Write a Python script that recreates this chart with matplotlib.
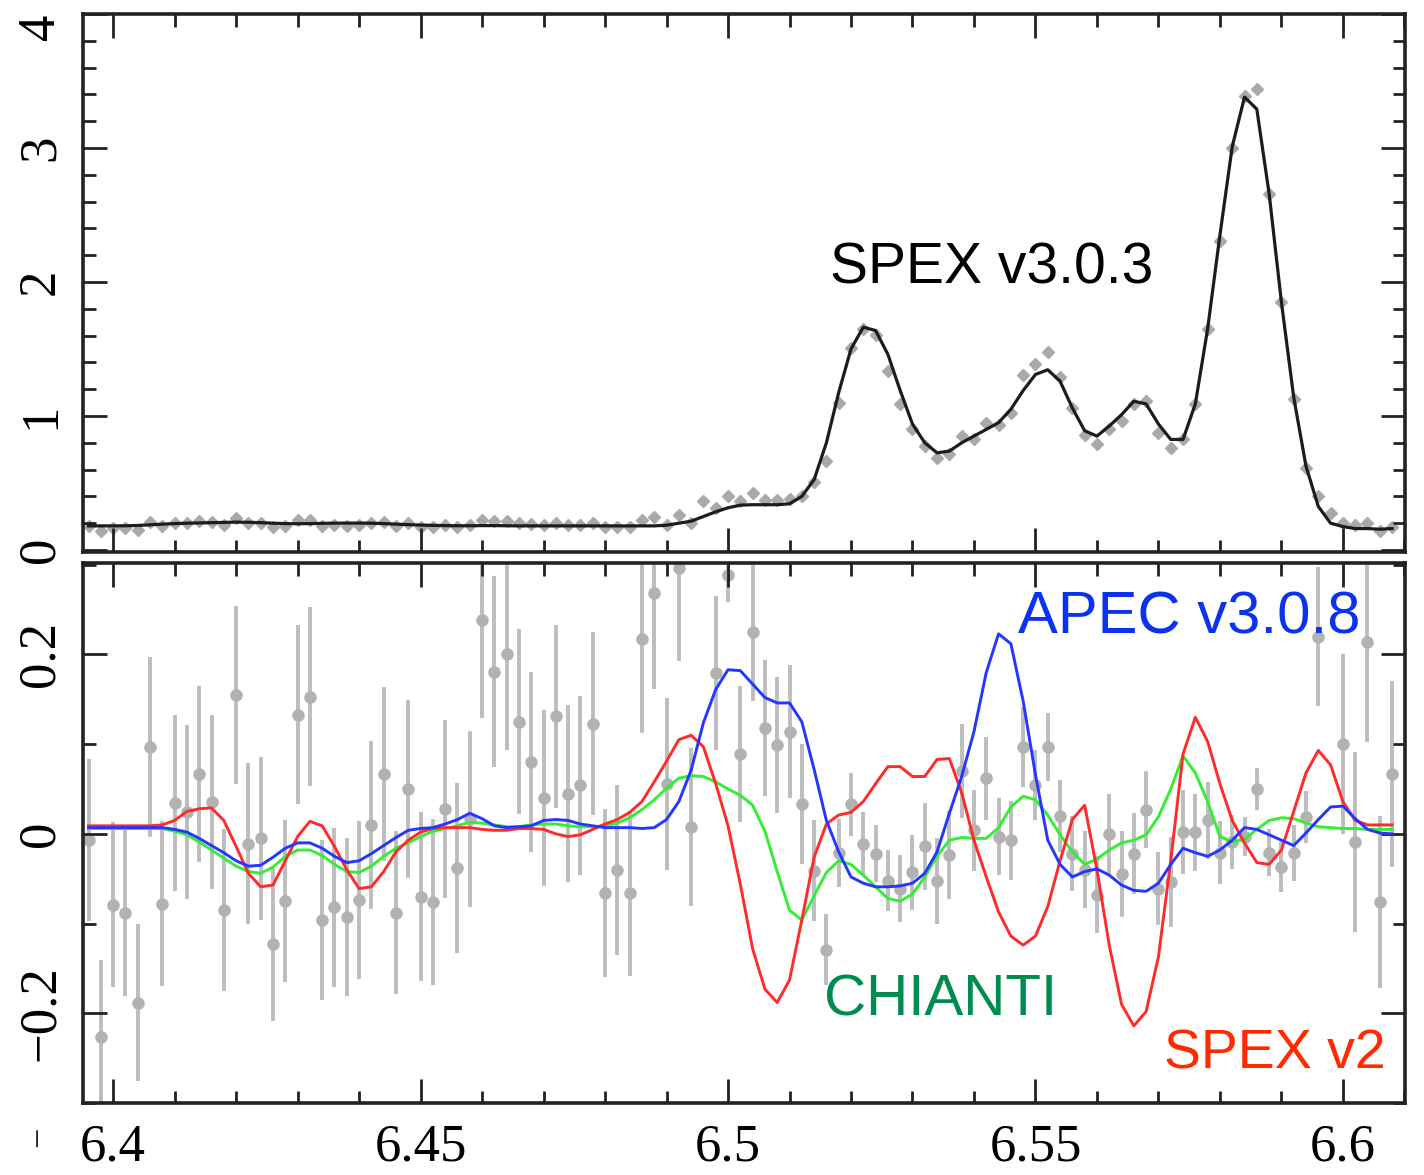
import numpy as np
import matplotlib
matplotlib.use("Agg")
import matplotlib.pyplot as plt
from matplotlib.ticker import MultipleLocator

# ---------------- data ----------------
energy = np.round(np.arange(6.396, 6.6085, 0.002), 3)   # keV bins (107)

top_model = [0.180, 0.180, 0.180, 0.181, 0.183, 0.188, 0.193, 0.197, 0.200, 0.202,
             0.204, 0.206, 0.208, 0.207, 0.204, 0.200, 0.197, 0.196, 0.197, 0.199,
             0.200, 0.201, 0.201, 0.200, 0.197, 0.193, 0.189, 0.186, 0.184, 0.182,
             0.181, 0.181, 0.182, 0.182, 0.181, 0.180, 0.180, 0.180, 0.180, 0.180,
             0.180, 0.180, 0.180, 0.180, 0.180,
             0.180, 0.180, 0.185, 0.200, 0.215, 0.250, 0.285, 0.315, 0.335, 0.338,
             0.338, 0.338, 0.345, 0.400, 0.525, 0.800, 1.175, 1.500, 1.663, 1.638,
             1.460, 1.190, 0.940, 0.800, 0.725, 0.738, 0.800, 0.850, 0.900, 0.950,
             1.050, 1.190, 1.310, 1.345, 1.260, 1.060, 0.890, 0.850, 0.925, 1.010,
             1.110, 1.090, 0.940, 0.825, 0.825, 1.090, 1.650, 2.350, 3.010, 3.380,
             3.290, 2.660, 1.850, 1.140, 0.625, 0.325, 0.200, 0.175, 0.160, 0.160,
             0.155, 0.160]

top_data = [0.179, 0.139, 0.166, 0.165, 0.149, 0.206, 0.178, 0.204, 0.205, 0.216,
            0.211, 0.188, 0.240, 0.205, 0.203, 0.175, 0.182, 0.222, 0.227, 0.180,
            0.184, 0.182, 0.186, 0.202, 0.210, 0.176, 0.198, 0.173, 0.170, 0.187,
            0.174, 0.184, 0.226, 0.215, 0.217, 0.203, 0.194, 0.187, 0.204, 0.188,
            0.190, 0.202, 0.168, 0.173, 0.168,
            0.225, 0.250, 0.190, 0.263, 0.200, 0.363, 0.313, 0.400, 0.363, 0.425,
            0.375, 0.370, 0.380, 0.400, 0.505, 0.663, 1.100, 1.505, 1.650, 1.605,
            1.338, 1.088, 0.900, 0.775, 0.688, 0.713, 0.850, 0.830, 0.950, 0.930,
            1.025, 1.305, 1.390, 1.475, 1.290, 1.060, 0.860, 0.790, 0.900, 0.960,
            1.090, 1.110, 0.875, 0.760, 0.825, 1.090, 1.650, 2.305, 3.000, 3.390,
            3.440, 2.660, 1.850, 1.125, 0.610, 0.400, 0.275, 0.200, 0.190, 0.200,
            0.140, 0.175]

resid = [-0.007, -0.226, -0.079, -0.088, -0.188, 0.097, -0.078, 0.034, 0.024, 0.067,
         0.036, -0.085, 0.155, -0.011, -0.005, -0.123, -0.075, 0.133, 0.153, -0.096,
         -0.082, -0.093, -0.074, 0.010, 0.067, -0.088, 0.050, -0.070, -0.076, 0.028,
         -0.038, 0.017, 0.239, 0.181, 0.200, 0.125, 0.080, 0.040, 0.131, 0.045,
         0.054, 0.123, -0.066, -0.040, -0.066, 0.217, 0.268, 0.056, 0.296, 0.008,
         0.400, 0.179, 0.289, 0.089, 0.225, 0.118, 0.099, 0.114, 0.033, -0.041,
         -0.129, -0.021, 0.033, -0.011, -0.022, -0.052, -0.061, -0.043, -0.014, -0.053,
         -0.024, 0.070, 0.004, 0.062, -0.003, -0.007, 0.097, 0.054, 0.097, 0.020,
         -0.022, -0.040, -0.068, 0.000, -0.045, -0.022, 0.027, -0.061, -0.054, 0.002,
         0.002, 0.015, -0.021, -0.009, -0.003, 0.050, -0.021, -0.037, -0.021, 0.019,
         0.220, 0.400, 0.100, -0.009, 0.214, -0.076, 0.067]

resid_err = [0.090, 0.085, 0.092, 0.093, 0.087, 0.100, 0.092, 0.098, 0.097, 0.098,
             0.097, 0.090, 0.099, 0.090, 0.091, 0.086, 0.090, 0.100, 0.100, 0.089,
             0.089, 0.088, 0.088, 0.094, 0.097, 0.091, 0.099, 0.094, 0.093, 0.099,
             0.095, 0.098, 0.110, 0.106, 0.106, 0.103, 0.100, 0.098, 0.102, 0.099,
             0.100, 0.102, 0.094, 0.095, 0.092, 0.104, 0.107, 0.096, 0.103, 0.088,
             0.080, 0.086, 0.030, 0.076, 0.077, 0.076, 0.076, 0.074, 0.067, 0.056,
             0.040, 0.038, 0.035, 0.035, 0.032, 0.034, 0.037, 0.042, 0.048, 0.048,
             0.049, 0.052, 0.045, 0.046, 0.043, 0.044, 0.045, 0.039, 0.038, 0.040,
             0.042, 0.043, 0.043, 0.045, 0.048, 0.045, 0.043, 0.041, 0.050, 0.047,
             0.043, 0.043, 0.035, 0.030, 0.022, 0.023, 0.026, 0.028, 0.031, 0.029,
             0.077, 0.080, 0.100, 0.100, 0.111, 0.096, 0.104]

spex_v2 = [0.009, 0.009, 0.009, 0.009, 0.009, 0.009, 0.010, 0.015, 0.025, 0.028,
           0.029, 0.015, -0.014, -0.044, -0.059, -0.057, -0.030, -0.003, 0.014, 0.009,
           -0.014, -0.040, -0.061, -0.059, -0.042, -0.020, -0.007, 0.002, 0.006, 0.007,
           0.007, 0.007, 0.005, 0.004, 0.004, 0.006, 0.006, 0.005, 0.000, -0.003,
           -0.001, 0.005, 0.011, 0.016, 0.024, 0.036, 0.058, 0.081, 0.105, 0.110,
           0.097, 0.056, 0.009, -0.056, -0.128, -0.173, -0.188, -0.163, -0.096, -0.026,
           0.011, 0.021, 0.024, 0.036, 0.056, 0.075, 0.075, 0.064, 0.064, 0.083,
           0.084, 0.046, -0.007, -0.048, -0.087, -0.114, -0.124, -0.114, -0.081, -0.030,
           0.016, 0.032, -0.040, -0.124, -0.190, -0.214, -0.198, -0.137, -0.030, 0.089,
           0.130, 0.103, 0.056, 0.015, -0.010, -0.032, -0.034, -0.018, 0.025, 0.068,
           0.093, 0.077, 0.036, 0.015, 0.010, 0.010, 0.010]

apec = [0.007, 0.007, 0.007, 0.007, 0.007, 0.007, 0.007, 0.005, 0.002, -0.005,
        -0.013, -0.021, -0.030, -0.036, -0.035, -0.026, -0.016, -0.010, -0.010, -0.016,
        -0.025, -0.032, -0.030, -0.022, -0.013, -0.004, 0.004, 0.006, 0.007, 0.011,
        0.016, 0.023, 0.017, 0.009, 0.007, 0.008, 0.009, 0.015, 0.016, 0.015,
        0.011, 0.009, 0.007, 0.007, 0.007, 0.006, 0.007, 0.016, 0.036, 0.071,
        0.124, 0.161, 0.183, 0.182, 0.167, 0.152, 0.146, 0.146, 0.125, 0.072,
        0.015, -0.020, -0.048, -0.055, -0.059, -0.059, -0.058, -0.055, -0.044, -0.020,
        0.023, 0.064, 0.114, 0.180, 0.223, 0.212, 0.148, 0.066, -0.007, -0.034,
        -0.048, -0.042, -0.039, -0.046, -0.057, -0.063, -0.064, -0.055, -0.034, -0.016,
        -0.021, -0.025, -0.018, -0.007, 0.007, 0.005, -0.001, -0.007, -0.013, 0.001,
        0.016, 0.030, 0.031, 0.017, 0.005, 0.001, 0.000]

chianti = [0.006, 0.006, 0.006, 0.006, 0.006, 0.006, 0.006, 0.003, -0.001, -0.009,
           -0.018, -0.027, -0.036, -0.042, -0.044, -0.037, -0.025, -0.018, -0.018, -0.024,
           -0.034, -0.042, -0.043, -0.036, -0.025, -0.016, -0.010, -0.003, 0.003, 0.006,
           0.009, 0.013, 0.012, 0.010, 0.008, 0.008, 0.010, 0.011, 0.011, 0.009,
           0.008, 0.008, 0.009, 0.012, 0.018, 0.027, 0.038, 0.051, 0.062, 0.065,
           0.064, 0.058, 0.050, 0.043, 0.032, 0.003, -0.042, -0.085, -0.096, -0.069,
           -0.043, -0.030, -0.034, -0.046, -0.059, -0.072, -0.075, -0.067, -0.048, -0.025,
           -0.007, -0.004, -0.005, -0.005, 0.007, 0.030, 0.042, 0.038, 0.021, -0.001,
           -0.020, -0.034, -0.028, -0.018, -0.010, -0.007, -0.001, 0.019, 0.050, 0.087,
           0.068, 0.036, -0.003, -0.009, -0.006, 0.005, 0.015, 0.018, 0.017, 0.012,
           0.008, 0.007, 0.006, 0.006, 0.005, 0.005, 0.005]

top_yticks = [0, 1, 2, 3, 4]
bot_yticks = [-0.2, 0.0, 0.2]
bot_ytick_labels = ['\u22120.2', '0', '0.2']
xticks = [6.40, 6.45, 6.50, 6.55, 6.60]
xtick_labels = ["6.4", "6.45", "6.5", "6.55", "6.6"]

# ---------------- figure ----------------
plt.rcParams['font.family'] = ['Liberation Serif', 'DejaVu Serif']
fig = plt.figure(figsize=(14.24, 11.75), dpi=100)
ax1 = fig.add_axes([0.05829, 0.5302, 0.92837, 0.4579])
ax2 = fig.add_axes([0.05829, 0.06128, 0.92837, 0.45957])

XLIM = (6.3951, 6.6101)

# top panel
ax1.errorbar(energy, top_data, yerr=0.03, xerr=0.0006, fmt='D', ms=6,
             color='#a9a9a9', ecolor='#b0b0b0', elinewidth=1.6, capsize=0, zorder=1)
ax1.plot(energy, top_model, color='#1c1c1c', lw=2.3, zorder=3)
ax1.set_xlim(*XLIM)
ax1.set_ylim(-0.015, 4.0)

# bottom panel
ax2.errorbar(energy, resid, yerr=resid_err, fmt='o', ms=8, color='#b2b2b2',
             ecolor='#bdbdbd', elinewidth=2.8, capsize=0, zorder=1)
ax2.plot(energy, chianti, color='#33ee33', lw=2.1, zorder=3)
ax2.plot(energy, spex_v2, color='#ff2a2a', lw=2.1, zorder=4)
ax2.plot(energy, apec, color='#2436ff', lw=2.1, zorder=5)
ax2.set_xlim(*XLIM)
ax2.set_ylim(-0.300, 0.302)

for ax in (ax1, ax2):
    for sp in ax.spines.values():
        sp.set_linewidth(2.6)
        sp.set_color('#222222')
    ax.set_xticks(xticks)
    ax.xaxis.set_minor_locator(MultipleLocator(0.01))
    ax.tick_params(which='both', direction='in', top=True, right=True,
                   width=2.0, color='#222222')
    ax.tick_params(which='major', length=17)
    ax.tick_params(which='minor', length=9)

ax1.tick_params(axis='x', labelbottom=False)
ax1.set_yticks(top_yticks)
ax1.set_yticklabels([str(v) for v in top_yticks])
ax1.yaxis.set_minor_locator(MultipleLocator(0.2))

ax2.set_xticklabels(xtick_labels)
ax2.set_yticks(bot_yticks)
ax2.set_yticklabels(bot_ytick_labels)
ax2.yaxis.set_minor_locator(MultipleLocator(0.1))
ax2.tick_params(axis='x', labelsize=38, pad=15)

for ax in (ax1, ax2):
    ax.tick_params(axis='y', labelsize=38, pad=13)
    for lbl in ax.get_yticklabels():
        lbl.set_rotation(90)
        lbl.set_va('center')
        lbl.set_ha('right')
ax1.get_yticklabels()[-1].set_va('top')

# annotations
sans = ['Liberation Sans', 'DejaVu Sans']
ax1.text(6.5166, 1.99, 'SPEX v3.0.3', color='black', fontsize=41, family=sans,
         ha='left', va='baseline')
ax2.text(6.5472, 0.223, 'APEC v3.0.8', color='#0a32f0', fontsize=43, family=sans,
         ha='left', va='baseline')
ax2.text(6.5156, -0.203, 'CHIANTI', color='#008c50', fontsize=42, family=sans,
         ha='left', va='baseline')
ax2.text(6.5709, -0.261, 'SPEX v2', color='#ff2a00', fontsize=40, family=sans,
         ha='left', va='baseline')

fig.text(40 / 1424, 1 - 1137 / 1175, '\u2212', rotation=90, fontsize=26,
         ha='center', va='center', color='#222222')

fig.savefig('out.png', dpi=100)
